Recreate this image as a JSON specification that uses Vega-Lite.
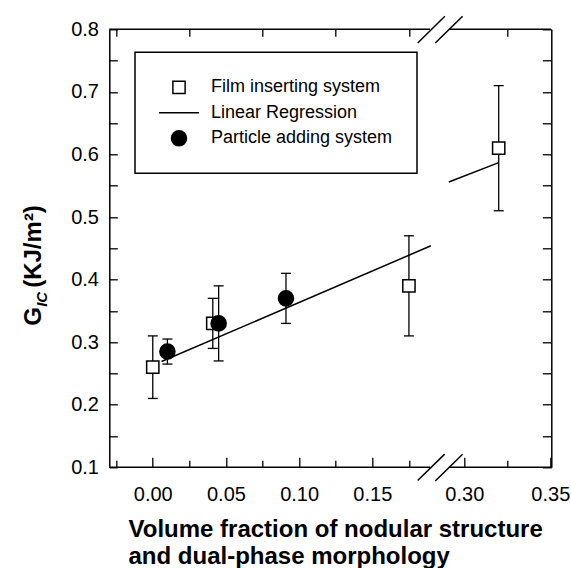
{
  "$schema": "https://vega.github.io/schema/vega-lite/v6.json",
  "width": 442,
  "height": 438,
  "autosize": {"type": "none"},
  "padding": {"left": 109.3, "top": 29.3, "right": 19.7, "bottom": 100.7},
  "config": {
    "font": "Liberation Sans",
    "view": {"stroke": null},
    "legend": {"strokeWidth": 1.5},
    "axis": {
      "grid": false,
      "domainColor": "black",
      "tickColor": "black",
      "labelColor": "black",
      "titleColor": "black",
      "domainWidth": 1.5,
      "tickWidth": 1.3,
      "labelFont": "Liberation Sans",
      "titleFont": "Liberation Sans",
      "labelOverlap": false,
      "labelBound": false,
      "labelFlush": false
    }
  },
  "datasets": {
    "points": [
      {"series": "Film inserting system", "x": 0.0, "y": 0.26, "lo": 0.21, "hi": 0.31},
      {"series": "Film inserting system", "x": 0.041, "y": 0.33, "lo": 0.29, "hi": 0.37},
      {"series": "Film inserting system", "x": 0.175, "y": 0.39, "lo": 0.31, "hi": 0.47},
      {"series": "Film inserting system", "x": 0.32, "y": 0.61, "lo": 0.51, "hi": 0.71},
      {"series": "Particle adding system", "x": 0.01, "y": 0.285, "lo": 0.265, "hi": 0.305},
      {"series": "Particle adding system", "x": 0.045, "y": 0.33, "lo": 0.27, "hi": 0.39},
      {"series": "Particle adding system", "x": 0.091, "y": 0.37, "lo": 0.33, "hi": 0.41}
    ],
    "regression": [
      {"seg": "a", "x": 0.006, "y": 0.269},
      {"seg": "a", "x": 0.19, "y": 0.454},
      {"seg": "b", "x": 0.291, "y": 0.556},
      {"seg": "b", "x": 0.32, "y": 0.587}
    ],
    "frame": [
      {"x": -0.0297, "x2": 0.1894, "y": 0.1},
      {"x": 0.2911, "x2": 0.3504, "y": 0.1},
      {"x": -0.0297, "x2": 0.1894, "y": 0.8},
      {"x": 0.2911, "x2": 0.3504, "y": 0.8}
    ],
    "breaks": [
      {"x": 0.181, "x2": 0.264, "y": 0.079, "y2": 0.121},
      {"x": 0.193, "x2": 0.299, "y": 0.078, "y2": 0.121},
      {"x": 0.181, "x2": 0.266, "y": 0.778, "y2": 0.821},
      {"x": 0.193, "x2": 0.299, "y": 0.778, "y2": 0.821}
    ]
  },
  "layer": [
    {
      "data": {"name": "frame"},
      "mark": {"type": "rule", "color": "black", "strokeWidth": 1.5},
      "encoding": {
        "x": {
          "field": "x", "type": "quantitative",
          "scale": {"type": "linear", "domain": [-0.0297, 0.195, 0.29, 0.3504], "range": [0, 328.9, 337.8, 441.7], "nice": false, "zero": false},
          "axis": {"orient": "top", "values": [-0.025, 0.025, 0.075, 0.125, 0.175, 0.325], "tickSize": -7, "labels": false, "domain": false, "title": null}
        },
        "x2": {"field": "x2"},
        "y": {
          "field": "y", "type": "quantitative",
          "scale": {"domain": [0.1, 0.8], "nice": false, "zero": false},
          "axis": {"orient": "right", "values": [0.1, 0.15, 0.2, 0.25, 0.3, 0.35, 0.4, 0.45, 0.5, 0.55, 0.6, 0.65, 0.7, 0.75, 0.8], "tickSize": -9, "labels": false, "domain": true, "title": null}
        }
      }
    },
    {
      "data": {"name": "breaks"},
      "mark": {"type": "rule", "color": "black", "strokeWidth": 1.5},
      "encoding": {
        "x": {"field": "x", "type": "quantitative", "axis": null},
        "x2": {"field": "x2"},
        "y": {
          "field": "y", "type": "quantitative",
          "axis": {"orient": "left", "ticks": false, "labels": false, "domain": false, "title": "G", "titleAngle": 270, "titleAlign": "left", "titleBaseline": "alphabetic", "titleX": -69.3, "titleY": 296, "titleFontSize": 24, "titleFontWeight": "bold"}
        },
        "y2": {"field": "y2"}
      }
    },
    {
      "data": {"name": "regression"},
      "mark": {"type": "line", "color": "black", "strokeWidth": 1.5},
      "encoding": {
        "x": {"field": "x", "type": "quantitative", "axis": null},
        "y": {
          "field": "y", "type": "quantitative",
          "axis": {"orient": "left", "ticks": false, "labels": false, "domain": false, "title": "IC", "titleAngle": 270, "titleAlign": "left", "titleBaseline": "alphabetic", "titleX": -63, "titleY": 277, "titleFontSize": 15, "titleFontWeight": "bold", "titleFontStyle": "italic"}
        },
        "detail": {"field": "seg", "type": "nominal"}
      }
    },
    {
      "data": {"name": "points"},
      "mark": {"type": "rule", "color": "black", "strokeWidth": 1.3},
      "encoding": {
        "x": {"field": "x", "type": "quantitative", "axis": null},
        "y": {"field": "lo", "type": "quantitative", "axis": null},
        "y2": {"field": "hi"}
      }
    },
    {
      "data": {"name": "points"},
      "mark": {"type": "tick", "orient": "horizontal", "size": 10, "thickness": 1.3, "color": "black", "opacity": 1},
      "encoding": {
        "x": {"field": "x", "type": "quantitative", "axis": null},
        "y": {"field": "lo", "type": "quantitative", "axis": null}
      }
    },
    {
      "data": {"name": "points"},
      "mark": {"type": "tick", "orient": "horizontal", "size": 10, "thickness": 1.3, "color": "black", "opacity": 1},
      "encoding": {
        "x": {"field": "x", "type": "quantitative", "axis": null},
        "y": {"field": "hi", "type": "quantitative", "axis": null}
      }
    },
    {
      "data": {"name": "points"},
      "mark": {"type": "point", "filled": true, "stroke": "black", "strokeWidth": 1.5, "opacity": 1, "size": 150},
      "encoding": {
        "x": {
          "field": "x", "type": "quantitative",
          "axis": {
            "orient": "bottom",
            "values": [-0.025, 0, 0.025, 0.05, 0.075, 0.1, 0.125, 0.15, 0.175, 0.3, 0.325, 0.35],
            "domain": false,
            "tickSize": {"condition": {"test": "abs(datum.value*20 - round(datum.value*20)) < 0.001", "value": -10}, "value": -7},
            "labelExpr": "abs(datum.value*20 - round(datum.value*20)) < 0.001 ? format(datum.value, '.2f') : ''",
            "labelFontSize": 20,
            "labelPadding": 27,
            "title": ["Volume fraction of nodular structure", "and dual-phase morphology"],
            "titleFontSize": 24,
            "titleFontWeight": "bold",
            "titleAlign": "left",
            "titleAnchor": "start",
            "titleBaseline": "alphabetic",
            "titleX": 18.7,
            "titleY": 69.4,
            "titleLineHeight": 27
          }
        },
        "y": {
          "field": "y", "type": "quantitative",
          "axis": {
            "orient": "left",
            "values": [0.1, 0.15, 0.2, 0.25, 0.3, 0.35, 0.4, 0.45, 0.5, 0.55, 0.6, 0.65, 0.7, 0.75, 0.8],
            "domain": true,
            "tickSize": -8,
            "labelExpr": "abs(datum.value*10 - round(datum.value*10)) < 0.001 ? format(datum.value, '.1f') : ''",
            "labelFontSize": 20,
            "labelPadding": 18.8,
            "title": "(KJ/m²)",
            "titleAngle": 270,
            "titleAlign": "left",
            "titleBaseline": "alphabetic",
            "titleX": -69.3,
            "titleY": 258,
            "titleFontSize": 24,
            "titleFontWeight": "bold"
          }
        },
        "shape": {
          "field": "series", "type": "nominal",
          "scale": {"domain": ["Film inserting system", "Linear Regression", "Particle adding system"], "range": ["M-1,-1H1V1H-1Z", "M-3.27,0H3.27", "M-1.23,0A1.23,1.23,0,1,1,1.23,0A1.23,1.23,0,1,1,-1.23,0Z"]},
          "legend": {"title": null, "orient": "none", "legendX": 25.7, "legendY": 23, "padding": 24, "strokeColor": "black", "fillColor": "white", "labelFontSize": 18, "labelFont": "Liberation Sans", "labelColor": "black", "labelLimit": 300, "labelOffset": 23, "symbolOffset": 11, "symbolSize": 150, "clipHeight": 22, "rowPadding": 3.5, "symbolStrokeColor": "black", "symbolStrokeWidth": 1.5, "symbolOpacity": 1,
            "encode": {"symbols": {"update": {"stroke": {"value": "black"}, "strokeWidth": {"value": 1.5}}}}}
        },
        "fill": {
          "field": "series", "type": "nominal",
          "scale": {"domain": ["Film inserting system", "Linear Regression", "Particle adding system"], "range": ["white", "transparent", "black"]},
          "legend": {"title": null, "orient": "none", "legendX": 25.7, "legendY": 23, "padding": 24, "strokeColor": "black", "fillColor": "white", "labelFontSize": 18, "labelFont": "Liberation Sans", "labelColor": "black", "labelLimit": 300, "labelOffset": 23, "symbolOffset": 11, "symbolSize": 150, "clipHeight": 22, "rowPadding": 3.5, "symbolStrokeColor": "black", "symbolStrokeWidth": 1.5, "symbolOpacity": 1,
            "encode": {"symbols": {"update": {"stroke": {"value": "black"}, "strokeWidth": {"value": 1.5}}}}}
        }
      }
    }
  ],
  "resolve": {"axis": {"x": "independent", "y": "independent"}}
}
